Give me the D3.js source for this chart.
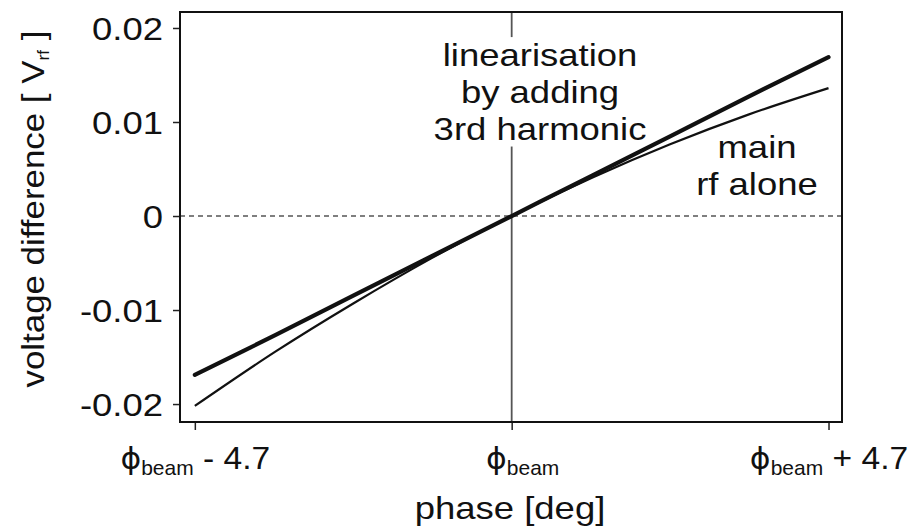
<!DOCTYPE html>
<html>
<head>
<meta charset="utf-8">
<script src="https://cdn.jsdelivr.net/npm/d3@7"></script>
<style>
  body { margin: 0; background: #fff; }
  text { font-family: "Liberation Sans", Arial, sans-serif; fill: #111; }
</style>
</head>
<body>
<svg id="chart"></svg>
<script>
// phase offset from phi_beam, in degrees
const phaseDeg = [-4.7, -3.5, -2.35, -1.2, 0, 1.2, 2.35, 3.5, 4.7];
// voltage difference [V_rf]
const mainRfAlone = [-0.0202, -0.0144, -0.0093, -0.00453, 0, 0.0041, 0.00763, 0.01076, 0.0136];
const withThirdHarmonic = [-0.0169, -0.01265, -0.00848, -0.00433, 0, 0.00433, 0.00848, 0.01265, 0.0169];

const yTickValues = [-0.02, -0.01, 0, 0.01, 0.02];
const yTickLabels = ["-0.02", "-0.01", "0", "0.01", "0.02"];
const xTickValues = [-4.7, 0, 4.7];
const xTickSuffix = [" - 4.7", "", " + 4.7"];

const annotationLines = ["linearisation", "by adding", "3rd harmonic"];
const curveLabelLines = ["main", "rf alone"];

var width = 911, height = 528;
var margin = {left: 180, top: 12, right: 69, bottom: 106};
var plotW = width - margin.left - margin.right;
var plotH = height - margin.top - margin.bottom;
var fontSize = 32;
var stretch = 1.14; // the original lettering is a little wider than Arial

var svg = d3.select("#chart")
    .attr("width", width)
    .attr("height", height);

var x = d3.scaleLinear().domain([-4.92, 4.9]).range([0, plotW]);
var y = d3.scaleLinear().domain([-0.02191, 0.0217]).range([plotH, 0]);

var g = svg.append("g")
    .attr("transform", "translate(" + margin.left + "," + margin.top + ")");

// y axis
var yAxis = g.append("g")
    .call(d3.axisLeft(y)
        .tickValues(yTickValues)
        .tickFormat(function(d, i) { return yTickLabels[i]; })
        .tickSize(7)
        .tickPadding(10));
yAxis.select(".domain").remove();
yAxis.selectAll("line").attr("stroke", "#222").attr("stroke-width", 1.5);
yAxis.selectAll("text")
    .style("font-size", fontSize + "px")
    .attr("x", -17 / stretch)
    .attr("dy", "0.36em")
    .attr("transform", "scale(" + stretch + ",1)");

// x axis
var xAxis = g.append("g")
    .attr("transform", "translate(0," + plotH + ")")
    .call(d3.axisBottom(x)
        .tickValues(xTickValues)
        .tickFormat("")
        .tickSize(8));
xAxis.select(".domain").remove();
xAxis.selectAll("line").attr("stroke", "#222").attr("stroke-width", 1.5);
xAxis.selectAll(".tick text").each(function(d, i) {
    var t = d3.select(this)
        .attr("x", i === 1 ? 10 : 0)
        .attr("y", 47)
        .attr("dy", 0)
        .attr("transform", "scale(1.05,1)")
        .style("font-size", fontSize + "px");
    t.append("tspan")
        .style("font-family", "'DejaVu Sans', sans-serif")
        .style("font-size", "30px")
        .text("\u03D5");
    t.append("tspan")
        .style("font-size", "20px")
        .attr("dy", 6)
        .text("beam");
    if (xTickSuffix[i]) {
        t.append("tspan")
            .attr("dy", -6)
            .text(xTickSuffix[i]);
    }
});

// zero line
g.append("line")
    .attr("x1", 0).attr("x2", plotW)
    .attr("y1", y(0)).attr("y2", y(0))
    .attr("stroke", "#555")
    .attr("stroke-width", 1.5)
    .attr("stroke-dasharray", "5,4");

// phi_beam line
g.append("line")
    .attr("x1", x(0)).attr("x2", x(0))
    .attr("y1", 0).attr("y2", plotH)
    .attr("stroke", "#555")
    .attr("stroke-width", 1.8);

var line = d3.line()
    .x(function(d, i) { return x(phaseDeg[i]); })
    .y(function(d) { return y(d); })
    .curve(d3.curveCatmullRom);

g.append("path")
    .datum(mainRfAlone)
    .attr("fill", "none")
    .attr("stroke", "#111")
    .attr("stroke-width", 2.2)
    .attr("d", line);

g.append("path")
    .datum(withThirdHarmonic)
    .attr("fill", "none")
    .attr("stroke", "#111")
    .attr("stroke-width", 4.2)
    .attr("stroke-linecap", "round")
    .attr("d", line);

// frame
g.append("rect")
    .attr("width", plotW)
    .attr("height", plotH)
    .attr("fill", "none")
    .attr("stroke", "#111")
    .attr("stroke-width", 2);

// annotation, with a white patch over the phi_beam line behind it
var note = g.append("g");
var noteBox = note.append("rect").attr("fill", "#fff");
var noteText = note.append("text")
    .attr("text-anchor", "middle")
    .attr("transform", "translate(360,0) scale(" + stretch + ",1)")
    .style("font-size", fontSize + "px");
noteText.selectAll("tspan")
    .data(annotationLines)
    .enter()
    .append("tspan")
    .attr("x", 0)
    .attr("y", function(d, i) { return 54 + i * 37; })
    .text(function(d) { return d; });
var bb = noteText.node().getBBox();
noteBox
    .attr("x", x(0) - 8)
    .attr("width", 16)
    .attr("y", bb.y)
    .attr("height", bb.height);

var curveLabel = g.append("text")
    .attr("text-anchor", "middle")
    .attr("transform", "translate(577,0) scale(" + stretch + ",1)")
    .style("font-size", fontSize + "px");
curveLabel.selectAll("tspan")
    .data(curveLabelLines)
    .enter()
    .append("tspan")
    .attr("x", 0)
    .attr("y", function(d, i) { return 146 + i * 37; })
    .text(function(d) { return d; });

// axis titles
var yTitle = svg.append("text")
    .attr("transform", "translate(44,209) rotate(-90) scale(1.09,1)")
    .attr("text-anchor", "middle")
    .style("font-size", fontSize + "px");
yTitle.append("tspan").text("voltage difference [ V");
yTitle.append("tspan").style("font-size", "16px").attr("dy", 5).text("rf");
yTitle.append("tspan").attr("dy", -5).text(" ]");

svg.append("text")
    .attr("transform", "translate(510,519) scale(" + stretch + ",1)")
    .attr("text-anchor", "middle")
    .style("font-size", fontSize + "px")
    .text("phase [deg]");
</script>
</body>
</html>
